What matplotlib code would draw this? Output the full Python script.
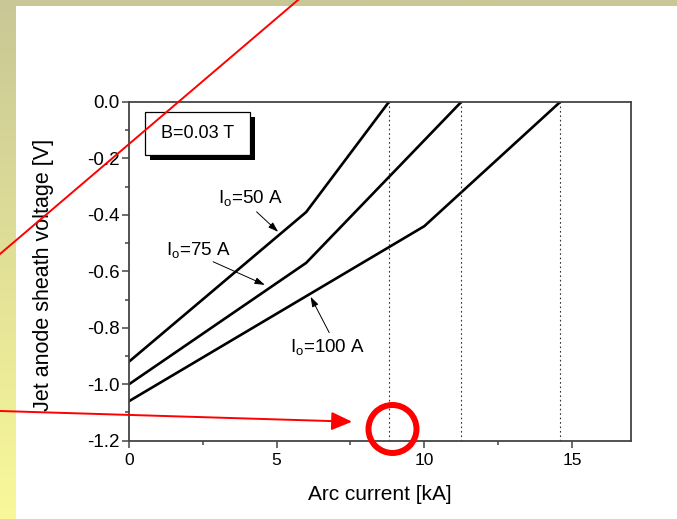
import numpy as np
import matplotlib
matplotlib.use('Agg')
import matplotlib.pyplot as plt
from matplotlib.patches import Rectangle, Circle
from matplotlib.ticker import MultipleLocator, FormatStrFormatter
import matplotlib.patheffects as pe

plt.rcParams['font.family'] = ['Liberation Sans', 'DejaVu Sans']
plt.rcParams['mathtext.default'] = 'regular'

# arc current [kA] vs jet anode sheath voltage [V], B = 0.03 T
current_50 = [0.0, 6.0, 8.8]
voltage_50 = [-0.92, -0.39, 0.0]
current_75 = [0.0, 6.0, 11.25]
voltage_75 = [-1.0, -0.57, 0.0]
current_100 = [0.0, 10.0, 14.6]
voltage_100 = [-1.06, -0.44, 0.0]
# currents where the sheath voltage reaches zero
zero_crossings = [8.8, 11.25, 14.6]
labels = ['I$_o$=50 A', 'I$_o$=75 A', 'I$_o$=100 A']

W, H = 677, 519
fig = plt.figure(figsize=(W / 100, H / 100), dpi=100)

# slide background: khaki frame fading to pale yellow
bg = fig.add_axes([0, 0, 1, 1], zorder=-2)
top = np.array([201, 199, 149]) / 255.
bot = np.array([249, 249, 154]) / 255.
t = np.linspace(0, 1, 256)[:, None]
grad = (top[None, :] * (1 - t) + bot[None, :] * t)[:, None, :]
bg.imshow(grad, aspect='auto', extent=[0, W, H, 0])
bg.add_patch(Rectangle((16, 6), W - 16, H - 6, facecolor='white', edgecolor='none'))
bg.set_xlim(0, W)
bg.set_ylim(H, 0)
bg.axis('off')

ax = fig.add_axes([129 / W, 1 - 440.7 / H, 502 / W, 338.7 / H])
ax.patch.set_alpha(0)

ax.plot(current_50, voltage_50, color='black', lw=1.9)
ax.plot(current_75, voltage_75, color='black', lw=1.9)
ax.plot(current_100, voltage_100, color='black', lw=1.9)
for xc in zero_crossings:
    ax.plot([xc, xc], [-1.2, 0.0], color='#333333', lw=0.8, ls=(0, (1.5, 2.5)))

ax.set_xlim(0, 17)
ax.set_ylim(-1.2, 0.0)
ax.xaxis.set_major_locator(MultipleLocator(5))
ax.xaxis.set_minor_locator(MultipleLocator(2.5))
ax.yaxis.set_major_locator(MultipleLocator(0.2))
ax.yaxis.set_minor_locator(MultipleLocator(0.1))
ax.yaxis.set_major_formatter(FormatStrFormatter('%.1f'))
for s in ax.spines.values():
    s.set_color('#444444')
    s.set_linewidth(1.3)
ax.tick_params(which='major', direction='out', length=5, width=1.1, color='#444444',
               pad=2)
ax.tick_params(axis='x', which='major', labelsize=12.5, pad=4)
ax.tick_params(axis='y', which='major', labelsize=13.5, pad=1.5)
ax.tick_params(which='minor', direction='out', length=3, width=1.1, color='#444444')
ax.set_xlabel('Arc current [kA]', fontsize=15, va='center')
ax.set_ylabel('Jet anode sheath voltage [V]', fontsize=15.5, va='center')
ax.xaxis.set_label_coords(251 / 502, -(495 - 440.7) / 338.7)
ax.yaxis.set_label_coords(-(129 - 44) / 502, 0.5 - (275 - 271.4) / 338.7)

# B field box with drop shadow
box = Rectangle((0.54, -0.188), 3.56, 0.154, facecolor='white', edgecolor='black', lw=0.9,
                zorder=5,
                path_effects=[pe.SimplePatchShadow(offset=(3.6, -3.6), shadow_rgbFace='black', alpha=1.0),
                              pe.Normal()])
ax.add_patch(box)
ax.text(2.32, -0.111, 'B=0.03 T', fontsize=13, ha='center', va='center', zorder=6)

# curve labels with pointer arrows
arrow = dict(arrowstyle='-|>,head_length=0.6,head_width=0.2', color='black', lw=0.7,
             mutation_scale=10, shrinkA=0, shrinkB=0)
ax.text(3.0, -0.34, labels[0], fontsize=13.5, va='center')
ax.annotate('', xy=(5.05, -0.46), xytext=(4.32, -0.389), arrowprops=arrow)
ax.text(1.25, -0.525, labels[1], fontsize=13.5, va='center')
ax.annotate('', xy=(4.6, -0.648), xytext=(2.85, -0.566), arrowprops=arrow)
ax.text(5.45, -0.867, labels[2], fontsize=13.5, va='center')
ax.annotate('', xy=(6.15, -0.69), xytext=(6.78, -0.817), arrowprops=arrow)

# red markup drawn over the slide
ov = fig.add_axes([0, 0, 1, 1], zorder=10)
ov.set_xlim(0, W)
ov.set_ylim(H, 0)
ov.axis('off')
ov.patch.set_alpha(0)
ov.plot([298, 0], [0, 254], color='red', lw=1.4)
ov.annotate('', xy=(352, 421.7), xytext=(0, 411),
            arrowprops=dict(arrowstyle='-|>,head_length=0.9,head_width=0.4', color='red',
                            lw=1.4, mutation_scale=14, shrinkA=0, shrinkB=0))
ov.add_patch(Circle((392.5, 429), 24, facecolor='none', edgecolor='red', lw=4.3))

fig.savefig('out.png', dpi=100)
